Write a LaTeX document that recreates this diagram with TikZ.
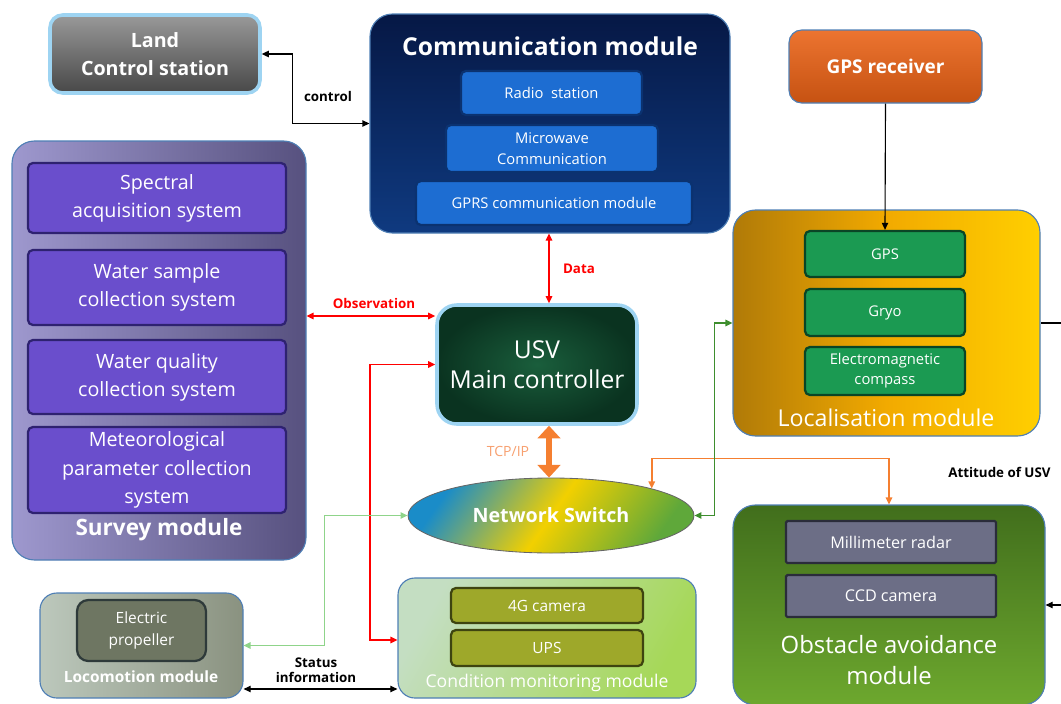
\documentclass[tikz,border=0pt]{standalone}
\usepackage{fontspec}
\setmainfont{Open Sans}
\usetikzlibrary{calc}
\usetikzlibrary{arrows.meta}
\usetikzlibrary{shapes.geometric}

\definecolor{glow}{HTML}{9ED4F2}
\definecolor{modedge}{HTML}{4F7FB5}
\definecolor{navytop}{HTML}{061845}
\definecolor{navybot}{HTML}{0F3A80}
\definecolor{commsub}{HTML}{1D6DD2}
\definecolor{commedge}{HTML}{0B3270}
\definecolor{greensub}{HTML}{1B9A52}
\definecolor{greenedge}{HTML}{0A4526}
\definecolor{purplesub}{HTML}{6A4ECC}
\definecolor{purpleedge}{HTML}{2E2270}
\definecolor{surveyleft}{HTML}{9E98CE}
\definecolor{surveyright}{HTML}{57517F}
\definecolor{olivesub}{HTML}{9EA82A}
\definecolor{oliveedge}{HTML}{3E4410}
\definecolor{graysub}{HTML}{6C6E86}
\definecolor{grayedge}{HTML}{2A2C3A}
\definecolor{propsub}{HTML}{6E7662}
\definecolor{propedge}{HTML}{2E3A3A}
\definecolor{locoleft}{HTML}{BCC8BC}
\definecolor{locoright}{HTML}{8A9280}
\definecolor{condleft}{HTML}{C4DEC2}
\definecolor{condright}{HTML}{A6D858}
\definecolor{obsttop}{HTML}{416E1C}
\definecolor{obstbot}{HTML}{6DA82E}
\definecolor{maininner}{HTML}{1A5E3C}
\definecolor{mainouter}{HTML}{0A3320}
\definecolor{gpstop}{HTML}{EC7430}
\definecolor{gpsbot}{HTML}{C65212}
\definecolor{locleft}{HTML}{B07A08}
\definecolor{locmid}{HTML}{F2AA00}
\definecolor{locright}{HTML}{FFCF00}
\definecolor{swblue}{HTML}{1A8CC8}
\definecolor{swyellow}{HTML}{F2D000}
\definecolor{swgreen}{HTML}{5FA83A}
\definecolor{obsred}{HTML}{FF0000}
\definecolor{tcporange}{HTML}{F57F30}
\definecolor{tcptext}{HTML}{F7A070}
\definecolor{locline}{HTML}{3E8E2E}
\definecolor{lightline}{HTML}{8FD48A}

\begin{document}
\begin{tikzpicture}[x=0.025cm, y=-0.025cm,
  >={Triangle[length=5pt,width=4.5pt]},
  sz/.style 2 args={minimum width=#1*0.025cm, minimum height=#2*0.025cm},
  fnt/.style 2 args={font=\fontsize{#1}{#2}\selectfont},
  bfnt/.style 2 args={font=\bfseries\fontsize{#1}{#2}\selectfont},
  mod/.style={draw=modedge, line width=0.8pt, rounded corners=16pt, inner sep=0pt},
  sub/.style={draw=#1, line width=1.6pt, rounded corners=3.5pt, inner sep=0pt, align=center, text=white},
  ttl/.style={text=white, align=center, inner sep=0pt},
  lbl/.style={font=\bfseries\fontsize{9.5}{10.5}\selectfont, align=center, inner sep=0pt}]

\useasboundingbox (0,0) rectangle (1061,704);
\clip (0,0) rectangle (1061,704);

% land station and communication
\node[draw=glow, line width=2.5pt, rounded corners=9pt, top color=gray!80, bottom color=black!72, sz={210}{78}, ttl, bfnt={14}{20}] (land) at (155,54) {Land\\Control station};

\node[mod, top color=navytop, bottom color=navybot, sz={360}{219}] (comm) at (550,123.5) {};
\node[ttl, bfnt={17.5}{20}] (commtitle) at (550,46) {Communication module};
\node[sub=commedge, fill=commsub, sz={181}{44}, fnt={10.5}{15}] (radio) at (551.5,93) {Radio\ \ station};
\node[sub=commedge, fill=commsub, sz={212}{47}, fnt={10.5}{15}] (micro) at (552,148.5) {Microwave\\Communication};
\node[sub=commedge, fill=commsub, sz={276}{44}, fnt={10.5}{15}] (gprs) at (554,203) {GPRS communication module};

% localisation
\node[draw=modedge, line width=0.8pt, rounded corners=9pt, top color=gpstop, bottom color=gpsbot, sz={193}{73}, ttl, bfnt={13.5}{16}] (gpsrx) at (885.5,66.5) {GPS receiver};

\node[mod, left color=locleft, right color=locright, middle color=locmid, sz={307}{226}] (loc) at (886.5,323) {};
\node[sub=greenedge, fill=greensub, sz={160}{46}, fnt={10.5}{14}] (gps) at (885,254) {GPS};
\node[sub=greenedge, fill=greensub, sz={160}{47}, fnt={10.5}{14}] (gryo) at (885,312.5) {Gryo};
\node[sub=greenedge, fill=greensub, sz={160}{48}, fnt={10.5}{14}] (compass) at (885,371) {Electromagnetic\\compass};
\node[ttl, fnt={16.5}{20}] (loctitle) at (886,418) {Localisation module};

% survey
\node[mod, left color=surveyleft, right color=surveyright, sz={294}{419}] (survey) at (159,350.5) {};
\node[sub=purpleedge, fill=purplesub, sz={258}{70}, fnt={14}{20}] (spectral) at (157,198) {Spectral\\acquisition system};
\node[sub=purpleedge, fill=purplesub, sz={258}{75}, fnt={14}{20}] (wsample) at (157,287.5) {Water sample\\collection system};
\node[sub=purpleedge, fill=purplesub, sz={258}{74}, fnt={14}{20}] (wquality) at (157,377) {Water quality\\collection system};
\node[sub=purpleedge, fill=purplesub, sz={258}{86}, fnt={14}{20}] (meteo) at (157,470) {Meteorological\\parameter collection\\system};
\node[ttl, bfnt={16}{20}] (surveytitle) at (159,530) {Survey module};

% controller and switch
\node[draw=glow, line width=2.5pt, rounded corners=14pt, inner color=maininner, outer color=mainouter, sz={200}{119}, ttl, fnt={17.5}{21}] (main) at (537,364.5) {USV\\Main controller};

\node[ellipse, draw=black!60, line width=0.6pt, left color=swblue, right color=swgreen, middle color=swyellow, shading angle=55, sz={286}{75}, ttl, bfnt={14}{16}] (sw) at (551,515.5) {Network Switch};

% locomotion and condition
\node[mod, rounded corners=12pt, left color=locoleft, right color=locoright, sz={203}{105}] (loco) at (141.5,645.5) {};
\node[sub=propedge, fill=propsub, rounded corners=8pt, sz={129}{61}, fnt={11}{15}] (prop) at (141.5,630.5) {Electric\\propeller};
\node[ttl, bfnt={11}{13}] (locotitle) at (141,677) {Locomotion module};

\node[mod, rounded corners=12pt, left color=condleft, right color=condright, shading angle=60, sz={298}{120}] (cond) at (547,638) {};
\node[sub=oliveedge, fill=olivesub, sz={192}{35}, fnt={11}{14}] (cam) at (547,605.5) {4G camera};
\node[sub=oliveedge, fill=olivesub, sz={192}{36}, fnt={11}{14}] (ups) at (547,648) {UPS};
\node[ttl, fnt={12.5}{14}] (condtitle) at (547,683) {Condition monitoring module};

% obstacle avoidance
\node[mod, top color=obsttop, bottom color=obstbot, sz={312}{200}] (obst) at (889,605) {};
\node[sub=grayedge, fill=graysub, rounded corners=1pt, sz={210}{42}, fnt={11.5}{14}] (radar) at (891,542) {Millimeter radar};
\node[sub=grayedge, fill=graysub, rounded corners=1pt, sz={210}{42}, fnt={11.5}{14}] (ccd) at (891,596) {CCD camera};
\node[ttl, fnt={17}{22}] (obsttitle) at (889,660) {Obstacle avoidance\\module};

% connectors
\draw[<->, line width=1pt] (land.east) -- ++(31,0) |- (comm.west);
\node[lbl] (lblcontrol) at (328,96) {control};

\draw[->, line width=0.8pt] (gpsrx.south) -- (gps.north);

\draw[<->, obsred, line width=1.2pt] (survey.east |- 0,316) -- (main.west |- 0,316);
\node[lbl, text=obsred] (lblobs) at (374,303) {Observation};

\draw[<->, obsred, line width=1.2pt] (comm.south -| 549,0) -- (main.north -| 549,0);
\node[lbl, text=obsred] (lbldata) at (579,269) {Data};

\draw[<->, obsred, line width=1.2pt] (main.west) -- ++(-65,0) |- (cond.west |- 0,640);

\draw[{Triangle[length=9pt,width=16pt]}-{Triangle[length=9pt,width=16pt]}, tcporange, line width=4.5pt] (main.south -| 549,0) -- (sw.north -| 549,0);
\node[text=tcptext, fnt={10}{12}, inner sep=0pt] (lbltcp) at (508,451) {TCP/IP};

\draw[<->, tcporange, line width=1.2pt] (sw.15) -- ++(0,-30) -| (obst.north);
\draw[<->, locline, line width=1.2pt] (loc.west) -- ++(-18,0) |- (sw.east);
\draw[<->, lightline, line width=1.2pt] (sw.west) -- ++(-83,0) |- (loco.east);

\draw[<->, line width=0.8pt] (loco.east |- 0,689) -- (cond.west |- 0,689);
\node[lbl] (lblstatus) at (316,670) {Status\\information};

\draw[<-, line width=0.8pt] (obst.east) -- ++(25,0) |- (loc.east);
\node[lbl, anchor=west] (lblatt) at (948,472) {Attitude of USV};

\end{tikzpicture}
\end{document}
